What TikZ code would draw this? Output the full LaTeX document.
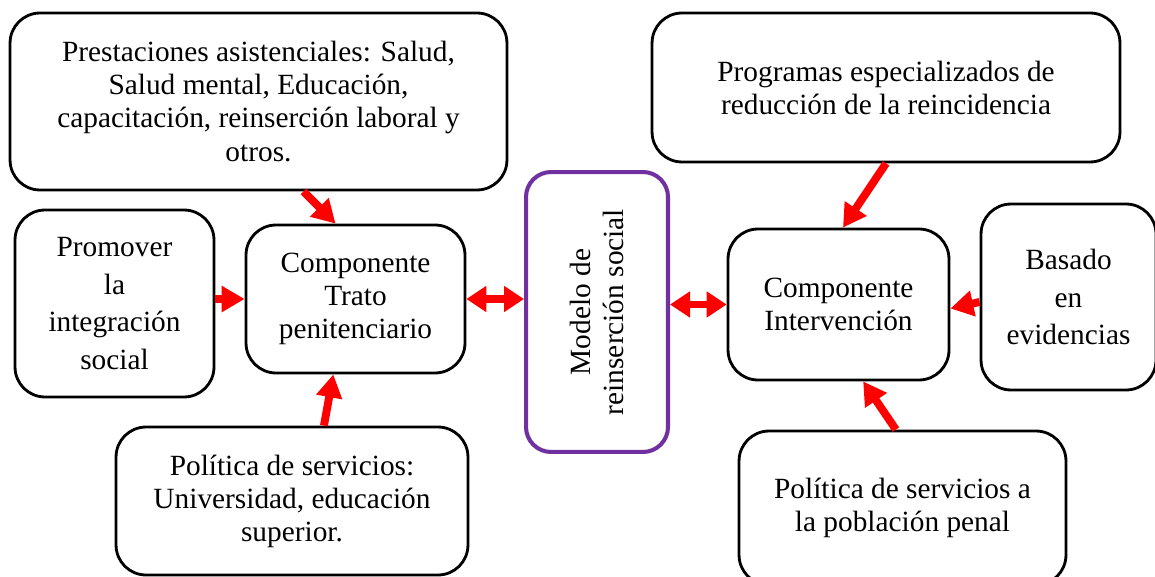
\documentclass[tikz,border=0pt]{standalone}
\usepackage{fontspec}
\setmainfont{Liberation Serif}
\usetikzlibrary{arrows.meta,calc}
\definecolor{morado}{HTML}{7030A0}

\begin{document}
\begin{tikzpicture}[x=0.02cm, y=-0.02cm,
    caja/.style={draw, line width=1.6pt, rounded corners=0.6cm, align=center, inner sep=0pt,
        font=\fontsize{16.7}{18.8}\selectfont},
    flecha/.style={draw=red, line width=4.5pt, -{Triangle[length=0.46cm,width=0.5cm]}},
    doble/.style={draw=red, line width=4.5pt,
        {Triangle[length=0.4cm,width=0.5cm]}-{Triangle[length=0.4cm,width=0.5cm]}}]
            \useasboundingbox (0,0) rectangle (1155,577);
            % lado izquierdo
            \node[caja, minimum width=9.94cm, minimum height=3.54cm] (prest) at (258.5,101.5)
                {Prestaciones asistenciales: Salud,\\ Salud mental, Educación,\\ capacitación, reinserción laboral y\\ otros.};
            \node[caja, minimum width=3.98cm, minimum height=3.74cm,
                font=\fontsize{16.7}{21.5}\selectfont] (promover) at (114.5,303.5)
                {Promover\\ la\\ integración\\ social};
            \node[caja, minimum width=4.38cm, minimum height=2.96cm] (trato) at (355.5,299)
                {Componente\\ Trato\\ penitenciario};
            \node[caja, minimum width=7.04cm, minimum height=2.96cm] (polizq) at (292,501)
                {Política de servicios:\\ Universidad, educación\\ superior.};
            % centro
            \node[caja, draw=morado, line width=2.3pt, rounded corners=0.5cm, rotate=90,
                minimum width=5.6cm, minimum height=2.84cm] (modelo) at (597,312)
                {Modelo de\\ reinserción social};
            % lado derecho
            \node[caja, minimum width=9.36cm, minimum height=2.98cm] (progr) at (886,87.5)
                {Programas especializados de\\ reducción de la reincidencia};
            \node[caja, minimum width=4.42cm, minimum height=3.02cm] (interv) at (838.5,304.5)
                {Componente\\ Intervención};
            \node[caja, minimum width=3.5cm, minimum height=3.72cm,
                font=\fontsize{16.7}{21.5}\selectfont] (basado) at (1068.5,297)
                {Basado\\ en\\ evidencias};
            \node[caja, minimum width=6.54cm, minimum height=3.08cm] (polder) at (902.5,508)
                {Política de servicios a\\ la población penal};
            % flechas
            \draw[flecha] ($(prest.south west)!0.59!(prest.south east)$) -- ($(trato.north west)!0.41!(trato.north east)$);
            \draw[flecha] (promover.east |- trato.west) -- (trato.west);
            \draw[flecha] ($(polizq.north west)!0.59!(polizq.north east)$) -- ($(trato.south west)!0.40!(trato.south east)$);
            \draw[doble] (trato.east) -- (trato.east -| modelo.north);
            \draw[doble] (modelo.south |- interv.west) -- (interv.west);
            \draw[flecha] ($(progr.south west)!0.50!(progr.south east)$) -- ($(interv.north west)!0.52!(interv.north east)$);
            \draw[flecha] ($(basado.west)+(0,5)$) -- ($(interv.east)+(0,4)$);
            \draw[flecha] ($(polder.north west)!0.48!(polder.north east)$) -- ($(interv.south west)!0.61!(interv.south east)$);
\end{tikzpicture}
\end{document}
